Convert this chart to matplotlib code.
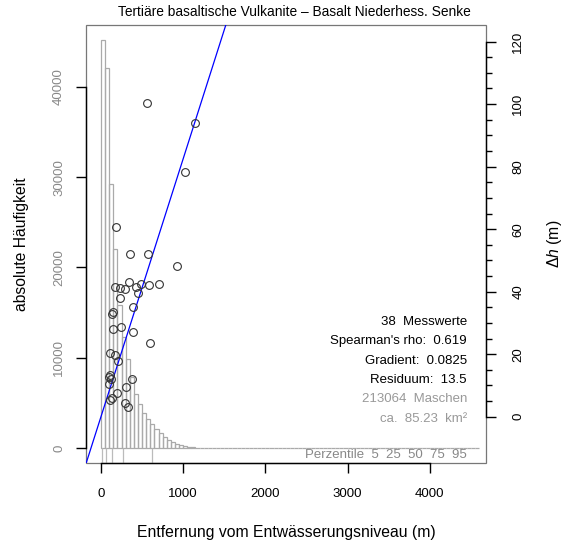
import numpy as np
import matplotlib
matplotlib.use("Agg")
import matplotlib.pyplot as plt
from matplotlib.patches import Rectangle
from matplotlib.ticker import FixedLocator

plt.rcParams["font.family"] = ["Liberation Sans", "DejaVu Sans"]
plt.rcParams["mathtext.fontset"] = "custom"
plt.rcParams["mathtext.rm"] = "Liberation Sans"
plt.rcParams["mathtext.it"] = "Liberation Sans:italic"

# histogram of all grid cells (distance to drainage level), 50 m bins
bin_width = 50
hist_counts = [45150, 42100, 29200, 22100, 15800, 12300, 9900, 7850, 5950, 4850,
               3900, 3200, 2630, 2100, 1660, 1200, 960, 700, 520, 370,
               230, 150, 100, 60, 35, 20, 12, 6, 3, 2]
max_dist = 4600
percentiles = [12, 56, 132, 272, 615]
percentile_names = ["5", "25", "50", "75", "95"]

# measured points: distance (m) vs. height difference (m)
dist = [564, 1140, 1018, 182, 357, 576, 929, 345, 175, 231,
        292, 422, 483, 580, 710, 446, 231, 393, 150, 130,
        146, 243, 393, 592, 109, 167, 207, 94, 118, 94,
        377, 304, 191, 130, 113, 296, 328, 105]
dh = [100.5, 94.1, 78.2, 60.7, 52.2, 52.2, 48.3, 43.2, 41.5, 41.1,
      40.9, 41.6, 42.4, 42.0, 42.4, 39.7, 38.1, 35.2, 33.6, 32.9,
      28.1, 28.7, 27.1, 23.7, 20.3, 19.7, 17.8, 12.6, 12.0, 10.4,
      12.1, 9.6, 7.7, 6.1, 5.2, 4.5, 3.2, 13.5]
gradient = 0.0825

info_lines = ["38  Messwerte", "Spearman's rho:  0.619", "Gradient:  0.0825",
              "Residuum:  13.5", "213064  Maschen", "ca.  85.23  km²"]
info_colors = ["#000000"] * 4 + ["#999999"] * 2

W, H = 564, 543
fig = plt.figure(figsize=(W / 100, H / 100), dpi=100)
box = [86, 25, 486, 463]  # pixel box left, top, right, bottom
ax = fig.add_axes([box[0] / W, 1 - box[3] / H, (box[2] - box[0]) / W, (box[3] - box[1]) / H])
ax2 = ax.twinx()

n_bins = int(max_dist / bin_width)
counts = np.zeros(n_bins)
counts[:len(hist_counts)] = hist_counts
edges = np.arange(n_bins) * bin_width
ax.bar(edges, counts, width=bin_width, align="edge", facecolor="none",
       edgecolor="#aaaaaa", linewidth=0.9)

ax.set_xlim(-182, 4684)
ax.set_ylim(-1630, 46830)
ax.vlines(percentiles, ax.get_ylim()[0], 0, color="#bbbbbb", linewidth=0.9)

ax2.set_ylim(-14.8, 125.3)
ax2.plot(dist, dh, "o", mfc="none", mec="#333333", ms=5.6, mew=0.8, zorder=3)
xs = np.array(ax.get_xlim())
ax2.plot(xs, gradient * xs, color="#0000ff", linewidth=0.9, zorder=2)

# gray frame, black axis lines only over tick range
for a in (ax, ax2):
    for s in a.spines.values():
        s.set_visible(False)
ax.add_patch(Rectangle((0, 0), 1, 1, transform=ax.transAxes, fill=False,
                       edgecolor="#777777", linewidth=0.9, clip_on=False, zorder=0))
ax.spines["left"].set_visible(True)
ax.spines["left"].set_bounds(0, 40000)
ax.spines["bottom"].set_visible(True)
ax.spines["bottom"].set_bounds(0, 4000)
ax2.spines["right"].set_visible(True)
ax2.spines["right"].set_bounds(0, 120)
for s in (ax.spines["left"], ax.spines["bottom"], ax2.spines["right"]):
    s.set_linewidth(1.0)
    s.set_color("#000000")

ax.set_xticks(np.arange(0, 4001, 1000))
ax.set_yticks(np.arange(0, 40001, 10000))
ax.tick_params(axis="x", length=7, width=1.0, pad=11, labelsize=9.5)
ax.tick_params(axis="y", length=7, width=1.0, pad=8, labelsize=9.5,
               labelcolor="#888888", labelrotation=90)
for lab in ax.get_yticklabels():
    lab.set_va("center")

ax2.yaxis.set_major_locator(FixedLocator(np.arange(0, 121, 20)))
ax2.yaxis.set_minor_locator(FixedLocator(np.arange(0, 121, 5)))
ax2.set_ylim(-14.8, 125.3)
ax2.tick_params(axis="y", which="major", length=7, width=1.0, pad=12,
                labelsize=9.5, labelrotation=90)
ax2.tick_params(axis="y", which="minor", length=4.5, width=1.0)
for lab in ax2.get_yticklabels():
    lab.set_va("center")

# text block
for i, (line, col) in enumerate(zip(info_lines, info_colors)):
    fig.text(467 / W, 1 - (322 + i * 19.3) / H, line, ha="right", va="center",
             fontsize=9.5, color=col)
fig.text(467 / W, 1 - 455 / H, "Perzentile  " + "  ".join(percentile_names),
         ha="right", va="center", fontsize=9.5, color="#888888")

fig.text(294 / W, 1 - 12 / H, "Tertiäre basaltische Vulkanite – Basalt Niederhess. Senke",
         ha="center", va="center", fontsize=9.9)
fig.text(286 / W, 1 - 533 / H, "Entfernung vom Entwässerungsniveau (m)",
         ha="center", va="center", fontsize=11.3)
fig.text(22 / W, 1 - 244 / H, "absolute Häufigkeit", ha="center", va="center",
         rotation=90, fontsize=11.3)
fig.text(555 / W, 1 - 244 / H, "Δ$h$ (m)", ha="center", va="center",
         rotation=90, fontsize=11.3)

fig.savefig("out.png", dpi=100)
